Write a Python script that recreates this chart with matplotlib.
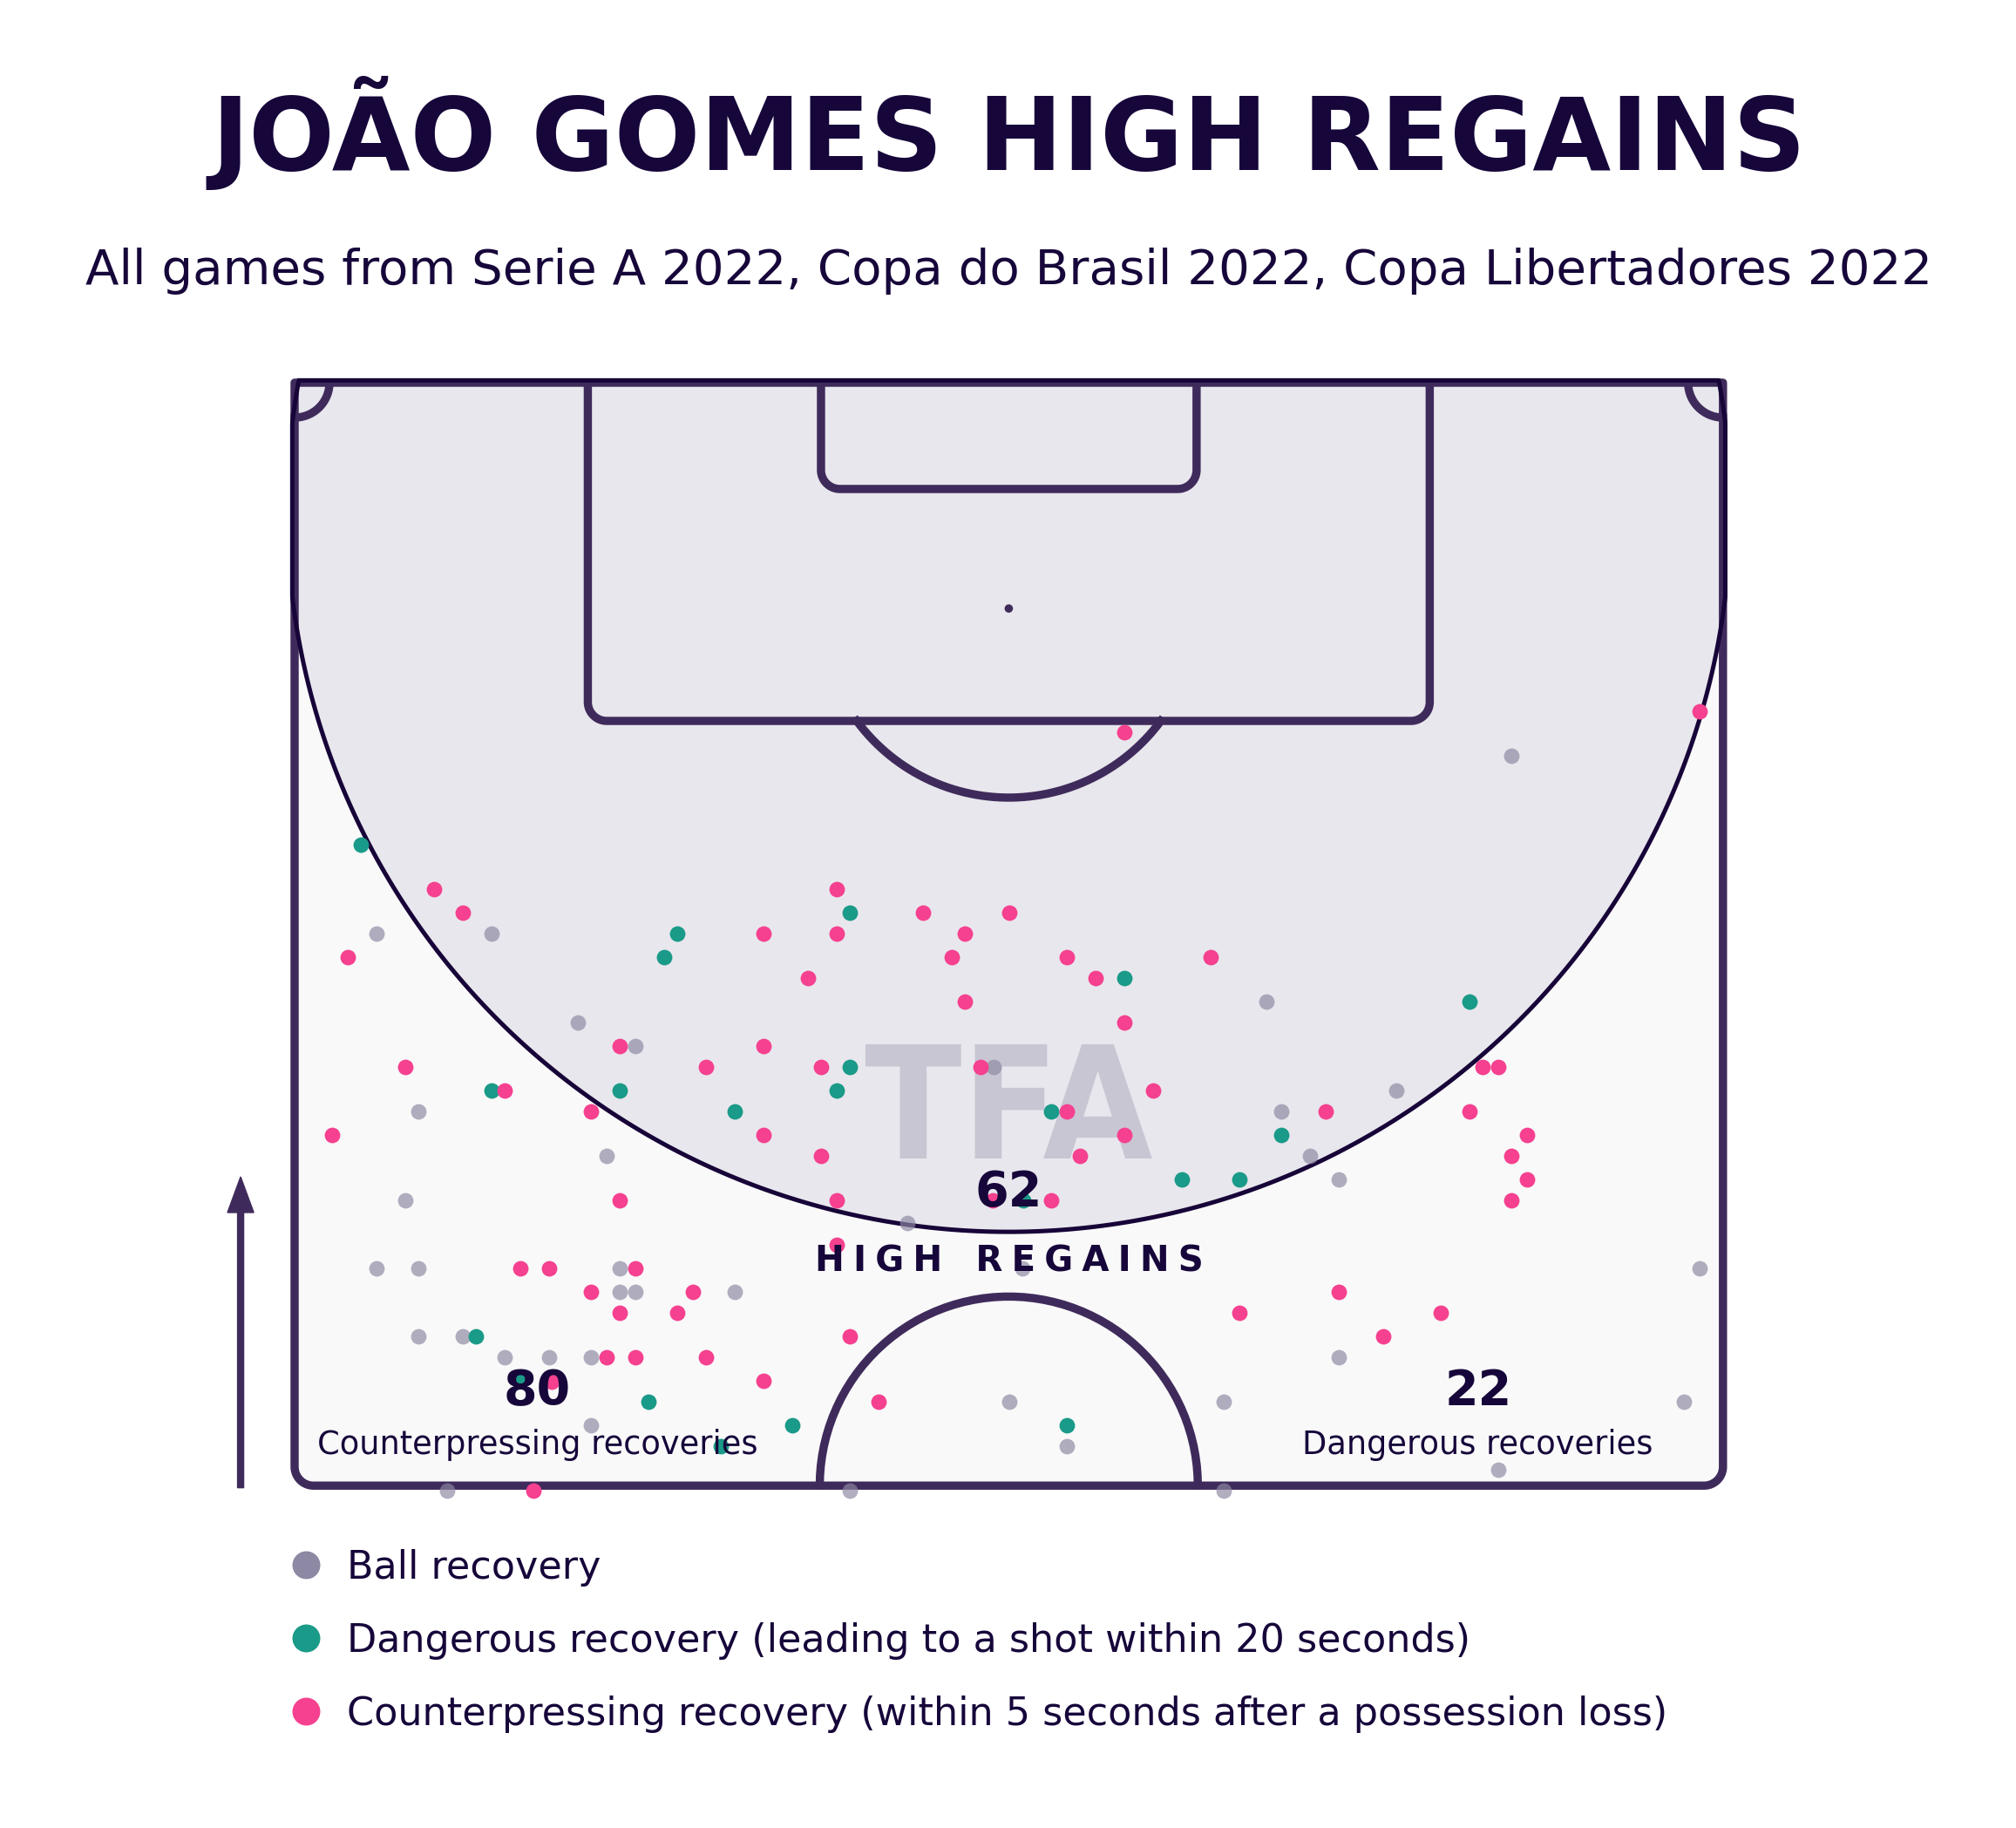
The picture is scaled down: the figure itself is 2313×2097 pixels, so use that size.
import numpy as np
import matplotlib
matplotlib.use("Agg")
import matplotlib.pyplot as plt
from matplotlib.patches import Polygon, PathPatch, Circle
from matplotlib.path import Path
from matplotlib.textpath import TextPath
from matplotlib.font_manager import FontProperties

# ---------------- data (metres: x from left touchline, y from goal line) -------------
ball_x = [3.89, 9.37, 13.48, 16.22, 5.89, 46.27, 33.28, 57.92, 52.44, 46.97,
          14.85, 5.27, 3.89, 5.89, 15.46, 15.46, 16.22, 20.95, 5.89, 8.01,
          10.00, 12.12, 14.12, 14.12, 7.26, 29.17, 34.66, 34.02, 44.23, 36.76,
          26.43, 44.23, 48.34, 49.70, 66.89, 49.70, 66.15, 57.30]
ball_y = [26.21, 26.21, 30.45, 31.56, 34.67, 29.46, 32.57, 17.76, 33.68, 34.67,
          36.81, 38.93, 42.14, 42.14, 42.14, 43.27, 43.27, 43.27, 45.39, 45.39,
          46.38, 46.38, 46.38, 49.61, 52.72, 40.02, 42.14, 48.50, 48.50, 50.61,
          52.72, 52.72, 36.81, 37.92, 42.14, 46.38, 48.50, 51.73]

danger_x = [3.14, 18.21, 17.59, 9.37, 15.46, 20.95, 26.43, 39.49, 26.43, 25.81,
            36.00, 55.94, 8.63, 10.66, 16.84, 20.27, 42.24, 44.98, 34.68, 23.69,
            36.76, 46.97]
danger_y = [21.98, 26.21, 27.34, 33.68, 33.68, 34.67, 25.22, 28.34, 32.57, 33.68,
            34.67, 29.46, 45.39, 47.43, 48.50, 50.61, 37.92, 37.92, 38.93, 49.61,
            49.61, 35.80]

counter_x = [6.63, 8.01, 22.31, 2.53, 15.46, 22.31, 5.27, 19.57, 10.00, 14.12,
             39.49, 25.81, 29.91, 34.02, 25.81, 31.90, 31.28, 36.76, 43.61, 24.43,
             38.12, 31.90, 39.49, 25.05, 32.64, 40.87, 36.76,
             66.89, 56.56, 57.30, 49.09, 55.94,
             1.79, 22.31, 15.46, 10.74, 12.12, 16.22, 14.12, 18.96, 15.46, 18.21,
             14.85, 16.22, 19.57, 12.23, 22.31, 11.36,
             39.49, 25.05, 37.38, 25.81, 33.23, 36.00, 25.81, 44.98, 26.43, 27.80,
             58.66, 57.92, 58.66, 57.92, 49.70, 54.56, 51.82]
counter_y = [24.09, 25.22, 26.21, 27.34, 31.56, 31.56, 32.57, 32.57, 33.68, 34.67,
             16.64, 24.09, 25.22, 25.22, 26.21, 26.21, 27.34, 27.34, 27.34, 28.34,
             28.34, 29.46, 30.45, 32.57, 32.57, 33.68, 34.67,
             15.63, 32.57, 32.57, 34.67, 34.67,
             35.80, 35.80, 38.93, 42.14, 42.14, 42.14, 43.27, 43.27, 44.26, 44.26,
             46.38, 46.38, 46.38, 47.54, 47.49, 52.72,
             35.80, 36.81, 36.81, 38.93, 38.93, 38.93, 41.05, 44.26, 45.39, 48.50,
             35.80, 36.81, 37.92, 38.93, 43.27, 44.26, 45.39]

title = "JOÃO GOMES HIGH REGAINS"
subtitle = "All games from Serie A 2022, Copa do Brasil 2022, Copa Libertadores 2022"
high_regains = 62
counterpressing_total = 80
dangerous_total = 22
legend_labels = ["Ball recovery",
                 "Dangerous recovery (leading to a shot within 20 seconds)",
                 "Counterpressing recovery (within 5 seconds after a possession loss)"]

# ---------------- style ----------------
DARK = "#16063a"
LINE = "#3f2b5b"
ZONE_EDGE = "#170438"
ZONE_FILL = "#e8e7ed"
PITCH_BG = "#f9f9f9"
GRAY = "#8d88a3"
TEAL = "#1a9a88"
PINK = "#f5418f"
WATERMARK = "#c9c6d3"

W, H = 2313, 2097
PX = 24.1          # pixels per metre
X0, Y0 = 338, 439  # pixel position of the left touchline / goal line
PW, PL = 68.0, 52.5

fig = plt.figure(figsize=(W / 100, H / 100), dpi=100)
fig.patch.set_facecolor("white")
ax = fig.add_axes([0, 0, 1, 1])
ax.set_xlim(-X0 / PX, (W - X0) / PX)
ax.set_ylim((H - Y0) / PX, -Y0 / PX)
ax.axis("off")


def arc(cx, cy, r, t0, t1, n=60):
    t = np.radians(np.linspace(t0, t1, n))
    return np.column_stack([cx + r * np.cos(t), cy + r * np.sin(t)])


def open_box(x0, x1, depth, r):
    pts = [np.array([[x0, 0.0]])]
    pts.append(arc(x0 + r, depth - r, r, 180, 90))
    pts.append(arc(x1 - r, depth - r, r, 90, 0))
    pts.append(np.array([[x1, 0.0]]))
    return np.vstack(pts)


LW = 6.8
# pitch background + border
outline = open_box(0, PW, PL, 0.9)
ax.add_patch(Polygon(outline, closed=True, facecolor=PITCH_BG, edgecolor="none", zorder=0))

# high regain zone
t = np.linspace(0, 2 * np.pi, 1500)
zc_y, zr = 6.06, 34.36
zx = np.clip(PW / 2 + zr * np.cos(t), -0.11, PW + 0.11)
zy = np.clip(zc_y + zr * np.sin(t), -0.11, PL)
zone = np.column_stack([zx, zy])
ax.add_patch(Polygon(zone, closed=True, facecolor=ZONE_FILL, edgecolor="none", zorder=1))

# watermark
fp = FontProperties(family="DejaVu Sans", weight="bold")
tp = TextPath((0, 0), "TFA", size=1, prop=fp)
ext = tp.get_extents()
v = tp.vertices.copy()
wm_w, wm_h = 13.65, 5.44
wm_cx, wm_base = PW / 2, 36.93
nx = (v[:, 0] - ext.x0) / ext.width
ny = (v[:, 1] - ext.y0) / ext.height
v2 = np.column_stack([wm_cx - wm_w / 2 + nx * wm_w, wm_base - ny * wm_h])
ax.add_patch(PathPatch(Path(v2, tp.codes), facecolor=WATERMARK, edgecolor="none", zorder=2))

# pitch markings
ax.add_patch(Polygon(outline, closed=True, fill=False, edgecolor=LINE, lw=LW,
                     joinstyle="round", zorder=3))
for (bx0, bx1, bd) in [(13.96, 54.04, 16.1), (25.06, 42.94, 5.06)]:
    b = open_box(bx0, bx1, bd, 0.9)
    ax.plot(b[:, 0], b[:, 1], color=LINE, lw=LW, solid_capstyle="butt", zorder=3)
pa = arc(PW / 2, 10.75, 9.0, 36.5, 143.5)
ax.plot(pa[:, 0], pa[:, 1], color=LINE, lw=LW, zorder=3)
cc = arc(PW / 2, PL, 9.0, 180, 360)
ax.plot(cc[:, 0], cc[:, 1], color=LINE, lw=LW, zorder=3)
for c in [arc(0, 0, 1.66, 0, 90), arc(PW, 0, 1.66, 90, 180)]:
    ax.plot(c[:, 0], c[:, 1], color=LINE, lw=LW, zorder=3)
ax.add_patch(Circle((PW / 2, 10.75), 0.17, color=LINE, zorder=3))

# zone edge
ax.add_patch(Polygon(zone, closed=True, fill=False, edgecolor=ZONE_EDGE, lw=3.6, zorder=3.5))

# recoveries
S = 165
ax.scatter(ball_x, ball_y, s=S, color=GRAY, alpha=0.68, lw=0, zorder=4)
ax.scatter(danger_x, danger_y, s=S, color=TEAL, lw=0, zorder=5)
ax.scatter(counter_x, counter_y, s=S, color=PINK, lw=0, zorder=6)

# in-pitch labels
ax.text(PW / 2, 39.17, str(high_regains), ha="center", va="baseline", fontsize=40,
        fontweight="bold", color=DARK, zorder=7)
ax.text(PW / 2, 42.3, "\u2005".join("HIGH") + " \u2005 " + "\u2005".join("REGAINS"),
        ha="center", va="baseline", fontsize=29, fontweight="bold", color=DARK, zorder=7)
ax.text(11.56, 48.65, str(counterpressing_total), ha="center", va="baseline", fontsize=40,
        fontweight="bold", color=DARK, zorder=7)
ax.text(11.58, 51.0, "Counterpressing recoveries", ha="center", va="baseline",
        fontsize=26.5, color=DARK, zorder=7)
ax.text(56.35, 48.65, str(dangerous_total), ha="center", va="baseline", fontsize=40,
        fontweight="bold", color=DARK, zorder=7)
ax.text(56.3, 51.0, "Dangerous recoveries", ha="center", va="baseline",
        fontsize=26.5, color=DARK, zorder=7)

# direction arrow
ax.arrow(-2.57, 52.6, 0, -14.8, width=0.29, head_width=1.25, head_length=1.7,
         length_includes_head=True, fc=LINE, ec=LINE, zorder=3)

# title / subtitle
ax.text(PW / 2, -10.14, title, ha="center", va="baseline", fontsize=83.5,
        fontweight="bold", color=DARK)
ax.text(PW / 2, -4.69, subtitle, ha="center", va="baseline", fontsize=40.5, color=DARK)

# legend
leg_colors = [GRAY, TEAL, PINK]
for i, (lab, col) in enumerate(zip(legend_labels, leg_colors)):
    yc = 56.27 + i * 3.485
    ax.scatter([0.54], [yc], s=530, color=col, lw=0, clip_on=False, zorder=5)
    ax.text(2.49, yc + 0.66, lab, ha="left", va="baseline", fontsize=32, color=DARK)

fig.savefig("out.png", dpi=100, facecolor="white")
